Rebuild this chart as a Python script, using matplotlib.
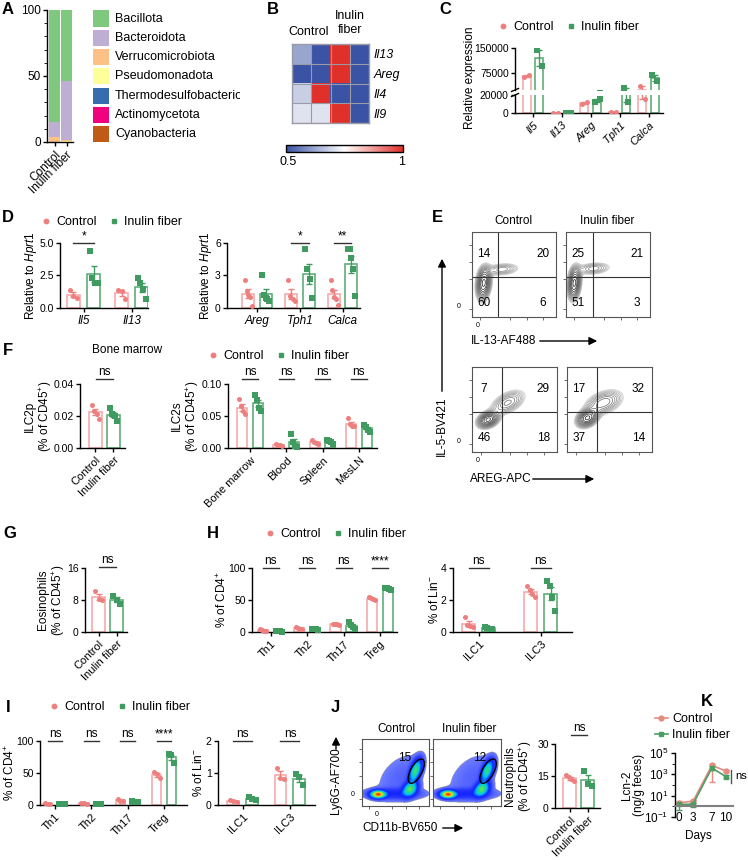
import numpy as np
import matplotlib
matplotlib.use("Agg")
import matplotlib.pyplot as plt
import matplotlib.transforms as mtransforms
from matplotlib.colors import LinearSegmentedColormap
from matplotlib.lines import Line2D
from matplotlib.patches import Ellipse, FancyArrowPatch, Rectangle
from matplotlib.ticker import MultipleLocator

plt.rcParams['font.family'] = ['Liberation Sans', 'DejaVu Sans']
plt.rcParams['font.size'] = 8.5
plt.rcParams['mathtext.fontset'] = 'custom'
plt.rcParams['mathtext.rm'] = 'Liberation Sans'
plt.rcParams['mathtext.it'] = 'Liberation Sans:italic'
plt.rcParams['axes.linewidth'] = 1.0
plt.rcParams['xtick.major.width'] = 1.0
plt.rcParams['ytick.major.width'] = 1.0
plt.rcParams['xtick.major.size'] = 3
plt.rcParams['ytick.major.size'] = 3
plt.rcParams['xtick.major.pad'] = 2
plt.rcParams['ytick.major.pad'] = 1.5
plt.rcParams['xtick.labelsize'] = 8
plt.rcParams['ytick.labelsize'] = 7.5

# ---------------- data ----------------
groups = ['Control', 'Inulin fiber']

# A: phylum composition (%)
phyla = ['Bacillota', 'Bacteroidota', 'Verrucomicrobiota', 'Pseudomonadota',
         'Thermodesulfobacteriota', 'Actinomycetota', 'Cyanobacteria']
phyla_colors = ['#7fc97f', '#beaed4', '#fdc086', '#ffff99', '#386cb0', '#f0027f', '#bf5b17']
abund_ctrl = [85.0, 11.0, 3.8, 0.2, 0.0, 0.0, 0.0]
abund_inul = [53.5, 45.0, 0.5, 1.0, 0.0, 0.0, 0.0]

# B: heatmap
hm_genes = ['Il13', 'Areg', 'Il4', 'Il9']
hm_vals = [[0.62, 0.50, 1.00, 0.50],
           [0.50, 0.50, 1.00, 0.50],
           [0.68, 1.00, 0.50, 0.50],
           [0.71, 0.71, 1.00, 0.50]]

# C: relative expression
c_genes = ['Il5', 'Il13', 'Areg', 'Tph1', 'Calca']
c_ctrl = [[65000, 71000], [300, 200], [10000, 12500], [600, 1500], [36000, 16000]]
c_inul = [[144000, 96000], [150, 300], [12000, 15500], [30500, 12000], [69000, 51000]]

# D: relative to Hprt1
d1_genes = ['Il5', 'Il13']
d1_ctrl = [[1.4, 0.9, 0.8], [1.35, 1.3, 0.7]]
d1_inul = [[4.35, 2.3, 1.9, 1.9], [2.3, 1.9, 1.45, 0.7]]
d2_genes = ['Areg', 'Tph1', 'Calca']
d2_ctrl = [[2.6, 1.6, 1.2, 1.0, 0.2], [2.6, 1.1, 0.8, 0.6], [2.6, 1.7, 1.0, 0.8, 0.3]]
d2_inul = [[3.0, 1.2, 0.9, 0.8, 0.6], [5.4, 3.6, 2.7, 0.9], [5.4, 5.4, 4.6, 3.6, 1.1]]

# E: flow quadrant percentages (UL, UR, LL, LR)
e_il13_ctrl = [14, 20, 60, 6]
e_il13_inul = [25, 21, 51, 3]
e_areg_ctrl = [7, 29, 46, 18]
e_areg_inul = [17, 32, 37, 14]
# populations (cx, cy, sx, sy, rho, weight) in axes fraction
e_il13_ctrl_pop = [(0.14, 0.40, 0.045, 0.10, 0.2, 1.0), (0.36, 0.56, 0.11, 0.04, 0.2, 0.25)]
e_il13_inul_pop = [(0.10, 0.40, 0.04, 0.10, 0.2, 1.0), (0.33, 0.57, 0.11, 0.04, 0.2, 0.25)]
e_areg_ctrl_pop = [(0.19, 0.38, 0.065, 0.05, 0.3, 1.0), (0.42, 0.58, 0.11, 0.08, 0.5, 0.35)]
e_areg_inul_pop = [(0.24, 0.40, 0.065, 0.055, 0.3, 1.0), (0.43, 0.58, 0.12, 0.08, 0.4, 0.4)]

# F: ILC2
f1_ctrl = [0.027, 0.023, 0.021, 0.018]
f1_inul = [0.025, 0.021, 0.020, 0.017]
f2_tissues = ['Bone marrow', 'Blood', 'Spleen', 'MesLN']
f2_ctrl = [[0.077, 0.065, 0.058, 0.053], [0.006, 0.005, 0.004, 0.003],
           [0.012, 0.010, 0.008, 0.007], [0.047, 0.037, 0.035, 0.034]]
f2_inul = [[0.083, 0.075, 0.063, 0.058], [0.022, 0.010, 0.003, 0.002],
           [0.012, 0.011, 0.009, 0.006], [0.036, 0.033, 0.028, 0.025]]

# G: eosinophils
g_ctrl = [10.2, 8.3, 7.9]
g_inul = [9.1, 8.0, 7.0]

# H
th_cells = ['Th1', 'Th2', 'Th17', 'Treg']
h1_ctrl = [[5, 3, 2, 2], [8, 6, 5, 4], [13, 12.5, 12, 11], [55, 53, 51, 50]]
h1_inul = [[1.5, 1, 0.8, 0.7], [5, 4.5, 4, 3.5], [15, 11, 8, 4], [69, 68, 67, 65]]
ilc_cells = ['ILC1', 'ILC3']
h2_ctrl = [[0.95, 0.45, 0.35, 0.3], [2.9, 2.6, 2.4, 2.2]]
h2_inul = [[0.3, 0.25, 0.2, 0.2], [3.2, 2.9, 2.2, 1.3]]

# I
i1_ctrl = [[3, 2, 1.5], [3, 2.5, 2], [9, 7, 6], [52, 48, 42]]
i1_inul = [[1.2, 1, 0.8], [2, 1.5, 1.2], [6, 5, 4.5], [79, 78, 66]]
i2_ctrl = [[0.17, 0.13, 0.10], [1.17, 0.85, 0.82]]
i2_inul = [[0.24, 0.18, 0.17], [0.97, 0.88, 0.62]]

# J
j_gate = [15, 12]
j_ctrl_pop = [(0.24, 0.17, 0.06, 0.03, 0.0, 1.0), (0.48, 0.18, 0.22, 0.045, 0.0, 0.07),
              (0.72, 0.25, 0.06, 0.06, 0.3, 0.45), (0.80, 0.52, 0.05, 0.09, 0.5, 0.42),
              (0.58, 0.42, 0.22, 0.22, 0.4, 0.012)]
j_inul_pop = [(0.22, 0.17, 0.06, 0.03, 0.0, 1.0), (0.48, 0.18, 0.22, 0.045, 0.0, 0.07),
              (0.72, 0.25, 0.06, 0.06, 0.3, 0.45), (0.80, 0.52, 0.05, 0.085, 0.5, 0.38),
              (0.58, 0.42, 0.22, 0.22, 0.4, 0.012)]
j_ctrl = [15.3, 14.5, 13.5, 12.5]
j_inul = [17.5, 11.4, 10.5]

# K: Lcn-2 time course
k_days = [0, 3, 7, 10]
k_ctrl = [2.2, 3.0, 7000, 2000]
k_ctrl_lo = [1.6, 2.2, 200, 1500]
k_ctrl_hi = [3.0, 4.0, 9000, 2600]
k_inul = [1.5, 1.6, 4000, 600]
k_inul_lo = [0.5, 0.8, 2500, 450]
k_inul_hi = [2.2, 2.2, 5500, 800]

CTRL_DOT, CTRL_BAR = '#EE7F7F', '#F5AAAA'
INUL_DOT, INUL_BAR = '#3F9B5F', '#5FAE78'

# ---------------- helpers ----------------
W, H = 748, 860
fig = plt.figure(figsize=(W / 100, H / 100), dpi=100)


def fx(x):
    return x / W


def fy(y):
    return 1 - y / H


def px_axes(l, t, r, b):
    return fig.add_axes([fx(l), fy(b), (r - l) / W, (b - t) / H])


def ftext(x, y, s, **kw):
    kw.setdefault('ha', 'center')
    kw.setdefault('va', 'center')
    return fig.text(fx(x), fy(y), s, **kw)


def arrow(x1, y1, x2, y2):
    fig.add_artist(FancyArrowPatch((fx(x1), fy(y1)), (fx(x2), fy(y2)),
                                   transform=fig.transFigure, arrowstyle='-|>',
                                   mutation_scale=12, lw=1, color='black'))


def letter(x, y, s):
    ftext(x, y, s, fontsize=12, fontweight='bold')


def group_legend(x, y):
    h = [Line2D([], [], ls='none', marker='o', ms=3.2, color=CTRL_DOT),
         Line2D([], [], ls='none', marker='s', ms=3.2, color=INUL_DOT)]
    fig.legend(h, groups, loc='center left', bbox_to_anchor=(fx(x), fy(y)),
               bbox_transform=fig.transFigure, ncol=2, frameon=False,
               handlelength=0.8, handletextpad=0.4, columnspacing=1.0,
               borderpad=0, borderaxespad=0, fontsize=9)


def bar_group(ax, x, vals, dot, edge, marker, width, clip=False):
    vals = np.asarray(vals, dtype=float)
    mean = vals.mean()
    sem = vals.std(ddof=1) / np.sqrt(len(vals))
    ax.bar(x, mean, width, color='white', edgecolor=edge, linewidth=1.2, zorder=2)
    ax.errorbar(x, mean, yerr=sem, fmt='none', ecolor=dot, elinewidth=1,
                capsize=2.5, capthick=1, zorder=3)
    offs = np.linspace(-0.3, 0.3, len(vals)) * width
    ax.scatter(x + offs, vals, s=13, color=dot, marker=marker, linewidths=0,
               zorder=4, clip_on=clip)


def finish(ax, cats, ylim, yticks, xlim, rot=45, italic=False, ylabels=None):
    ax.spines[['top', 'right']].set_visible(False)
    ax.set_xlim(xlim)
    ax.set_ylim(ylim)
    ax.set_yticks(yticks)
    if ylabels is not None:
        ax.set_yticklabels(ylabels)
    ax.set_xticks(range(len(cats)))
    style = 'italic' if italic else 'normal'
    if rot:
        ax.set_xticklabels(cats, rotation=rot, ha='right', rotation_mode='anchor',
                           fontstyle=style)
    else:
        ax.set_xticklabels(cats, fontstyle=style, fontsize=8.5)


def bar_panel(rect, cats, ctrl, inul, ylim, yticks, xlim, off=0.21, width=0.27,
              rot=45, italic=False, ylabels=None):
    ax = px_axes(*rect)
    for i in range(len(cats)):
        bar_group(ax, i - off, ctrl[i], CTRL_DOT, CTRL_BAR, 'o', width)
        bar_group(ax, i + off, inul[i], INUL_DOT, INUL_BAR, 's', width)
    finish(ax, cats, ylim, yticks, xlim, rot, italic, ylabels)
    return ax


def pair_panel(rect, ctrl, inul, ylim, yticks, xlim, width=0.72, ylabels=None):
    ax = px_axes(*rect)
    bar_group(ax, 0, ctrl, CTRL_DOT, CTRL_BAR, 'o', width)
    bar_group(ax, 1, inul, INUL_DOT, INUL_BAR, 's', width)
    finish(ax, groups, ylim, yticks, xlim, 45, False, ylabels)
    return ax


def sig(ax, x1, x2, yfrac, text):
    tr = mtransforms.blended_transform_factory(ax.transData, ax.transAxes)
    ax.plot([x1, x2], [yfrac, yfrac], color='#333333', lw=1, transform=tr, clip_on=False)
    ax.text((x1 + x2) / 2, yfrac + 0.01, text, transform=tr, ha='center', va='bottom',
            fontsize=8.5)


def density(pops, n=200):
    gx, gy = np.meshgrid(np.linspace(0, 1, n), np.linspace(0, 1, n))
    z = np.zeros_like(gx)
    for cx, cy, sx, sy, rho, w in pops:
        dx = (gx - cx) / sx
        dy = (gy - cy) / sy
        z += w * np.exp(-(dx ** 2 - 2 * rho * dx * dy + dy ** 2) / (2 * (1 - rho ** 2)))
    return gx, gy, z / z.max()


def flow_box(ax):
    ax.set_xlim(0, 1)
    ax.set_ylim(0, 1)
    for s in ax.spines.values():
        s.set_color('#555555')
        s.set_linewidth(0.8)
    ax.set_xticks([0.1, 0.45, 0.65, 0.85])
    ax.set_yticks([0.1, 0.45, 0.65, 0.85])
    ax.set_xticklabels([])
    ax.set_yticklabels([])
    ax.tick_params(length=2, width=0.6, color='#555555')


def flow_contour(rect, pops, vline, hline, nums):
    ax = px_axes(*rect)
    gx, gy, z = density(pops)
    levels = np.geomspace(0.06, 0.92, 14)
    colors = plt.cm.Greys(np.linspace(0.3, 0.92, 14))
    ax.contour(gx, gy, z, levels=levels, colors=colors, linewidths=0.5)
    ax.axvline(vline, color='#333333', lw=0.8)
    ax.axhline(hline, color='#333333', lw=0.8)
    for (tx, ty), v in zip([(0.14, 0.74), (0.84, 0.74), (0.14, 0.17), (0.84, 0.17)], nums):
        ax.text(tx, ty, str(v), transform=ax.transAxes, ha='center', va='center', fontsize=8.5)
    flow_box(ax)
    return ax


pseudo = LinearSegmentedColormap.from_list(
    'pseudo', ['#7080ff', '#3040ff', '#1020ff', '#00c0ff', '#30e070', '#f0f020', '#ff2000'])


def flow_density(rect, pops, num, numpos, gate_c):
    ax = px_axes(*rect)
    gx, gy, z = density(pops)
    c = np.ma.masked_less(z, 0.004) ** 0.35
    ax.imshow(c, cmap=pseudo, origin='lower', extent=(0, 1, 0, 1), vmin=0.145, vmax=1,
              aspect='auto', interpolation='bilinear')
    ax.add_patch(Ellipse(gate_c, 0.17, 0.4, angle=-28, fill=False, lw=1, ec='black',
                         transform=ax.transAxes))
    ax.text(numpos[0], numpos[1], str(num), transform=ax.transAxes, ha='center',
            va='center', fontsize=8.5)
    flow_box(ax)
    return ax


# ---------------- A ----------------
letter(8, 10, 'A')
ax = px_axes(47, 10, 73, 142)
bottom = np.zeros(2)
for name, col, c, v in reversed(list(zip(phyla, phyla_colors, abund_ctrl, abund_inul))):
    ax.bar([0, 1], [c, v], 0.92, bottom=bottom, color=col, linewidth=0)
    bottom += [c, v]
ax.set_xlim(-0.625, 1.54)
ax.set_ylim(0, 100)
ax.set_yticks([0, 50, 100])
ax.yaxis.set_minor_locator(MultipleLocator(10))
ax.tick_params(axis='y', which='minor', length=2)
ax.tick_params(axis='y', labelsize=8.5)
ax.spines[['top', 'right']].set_visible(False)
ax.set_xticks([0, 1])
ax.set_xticklabels(groups, rotation=45, ha='right', rotation_mode='anchor', fontsize=8.5)
clip = mtransforms.TransformedBbox(mtransforms.Bbox([[0, 0], [fx(240), 1]]), fig.transFigure)
for i, (name, col) in enumerate(zip(phyla, phyla_colors)):
    y = 18.5 + i * 19.3
    fig.add_artist(Rectangle((fx(93), fy(y + 8)), 16 / W, 16 / H, transform=fig.transFigure,
                             color=col, lw=0))
    t = ftext(115, y, name, ha='left', fontsize=9)
    t.set_clip_box(clip)
    t.set_clip_on(True)

# ---------------- B ----------------
letter(273, 9, 'B')
ax = px_axes(292, 44, 369, 123)
hm_cmap = LinearSegmentedColormap.from_list('bwr_hm', ['#3A53A4', '#FFFFFF', '#E0302A'])
im = ax.imshow(hm_vals, cmap=hm_cmap, vmin=0.5, vmax=1, aspect='auto')
ax.set_xticks(np.arange(-0.5, 4, 1), minor=True)
ax.set_yticks(np.arange(-0.5, 4, 1), minor=True)
ax.grid(which='minor', color='#9a9aa8', lw=0.8)
ax.set_xticks([])
ax.set_yticks(range(4))
ax.yaxis.tick_right()
ax.set_yticklabels(hm_genes, fontstyle='italic', fontsize=9)
ax.tick_params(which='both', length=0, pad=3)
for s in ax.spines.values():
    s.set_color('#9a9aa8')
ftext(309, 32, 'Control', fontsize=9)
ftext(350, 23, 'Inulin\nfiber', linespacing=1.3, fontsize=9)
cax = px_axes(286, 145, 403, 152)
cb = fig.colorbar(im, cax=cax, orientation='horizontal', ticks=[])
cb.outline.set_linewidth(1)
ftext(288, 162, '0.5', fontsize=9)
ftext(402, 162, '1', fontsize=9)

# ---------------- C ----------------
letter(445, 9, 'C')
group_legend(498, 27)
axu = px_axes(515, 48, 663, 90)
axl = px_axes(515, 95, 663, 113)
for a in (axu, axl):
    for i in range(len(c_genes)):
        bar_group(a, i - 0.22, c_ctrl[i], CTRL_DOT, CTRL_BAR, 'o', 0.28, clip=True)
        bar_group(a, i + 0.22, c_inul[i], INUL_DOT, INUL_BAR, 's', 0.28, clip=True)
finish(axl, c_genes, (0, 20000), [0, 20000], (-0.62, 4.5), 45, True, ['0', '20000'])
finish(axu, c_genes, (25000, 150000), [75000, 150000], (-0.62, 4.5), 45, True,
       ['75000', '150000'])
axu.spines['bottom'].set_visible(False)
axu.set_xticks([])
for y in (90, 95):
    fig.add_artist(Line2D([fx(511.5), fx(518.5)], [fy(y + 1.5), fy(y - 1.5)],
                          transform=fig.transFigure, color='black', lw=1))
ftext(470, 78, 'Relative expression', rotation=90)

# ---------------- D ----------------
letter(8, 217, 'D')
group_legend(41, 222)
ax = bar_panel((60, 243, 148, 308), d1_genes, d1_ctrl, d1_inul, (0, 5), [0, 2.5, 5],
               (-0.49, 1.34), off=0.21, width=0.27, rot=0, italic=True,
               ylabels=['0.0', '2.5', '5.0'])
sig(ax, -0.21, 0.21, 1.0, '*')
ftext(31, 275, r'Relative to $\mathit{Hprt1}$', rotation=90)
ax = bar_panel((227, 243, 360, 308), d2_genes, d2_ctrl, d2_inul, (0, 6), [0, 3, 6],
               (-0.7, 2.4), off=0.2, width=0.28, rot=0, italic=True)
sig(ax, 0.8, 1.2, 1.0, '*')
sig(ax, 1.8, 2.2, 1.0, '**')
ftext(206, 275, r'Relative to $\mathit{Hprt1}$', rotation=90)

# ---------------- E ----------------
letter(437, 217, 'E')
ftext(513, 221, 'Control')
ftext(607, 221, 'Inulin fiber')
flow_contour((472, 232, 556, 317), e_il13_ctrl_pop, 0.31, 0.47, e_il13_ctrl)
flow_contour((566, 232, 650, 317), e_il13_inul_pop, 0.32, 0.47, e_il13_inul)
flow_contour((472, 367, 557, 452), e_areg_ctrl_pop, 0.35, 0.47, e_areg_ctrl)
flow_contour((567, 367, 652, 452), e_areg_inul_pop, 0.35, 0.47, e_areg_inul)
for y0 in (306, 441):
    ftext(459, y0, '0', fontsize=5)
for y0 in (326, 461):
    ftext(478, y0, '0', fontsize=5)
ftext(471, 341, 'IL-13-AF488', ha='left')
arrow(537, 341, 600, 341)
ftext(470, 479, 'AREG-APC', ha='left')
arrow(530, 479, 597, 479)
ftext(442, 426, 'IL-5-BV421', rotation=90)
arrow(442, 394, 442, 256)

# ---------------- F ----------------
letter(8, 350, 'F')
ftext(127, 350, 'Bone marrow')
ax = pair_panel((80, 384, 125, 448), f1_ctrl, f1_inul, (0, 0.04), [0, 0.02, 0.04],
                (-0.86, 1.64), ylabels=['0.00', '0.02', '0.04'])
sig(ax, 0.05, 0.95, 1.08, 'ns')
ftext(39, 416, 'ILC2p\n(% of CD45$^{+}$)', rotation=90, linespacing=1.1)
group_legend(208, 356)
ax = bar_panel((228, 384, 377, 448), f2_tissues, f2_ctrl, f2_inul, (0, 0.1),
               [0, 0.05, 0.1], (-0.61, 3.5), off=0.215, width=0.28,
               ylabels=['0.00', '0.05', '0.10'])
for i in range(4):
    sig(ax, i - 0.215, i + 0.215, 1.08, 'ns')
ftext(186, 416, 'ILC2s\n(% of CD45$^{+}$)', rotation=90, linespacing=1.1)

# ---------------- G ----------------
letter(10, 533, 'G')
ax = pair_panel((85, 568, 127, 632), g_ctrl, g_inul, (0, 16), [0, 8, 16], (-0.75, 1.58))
sig(ax, 0.05, 0.95, 1.02, 'ns')
ftext(52, 600, 'Eosinophils\n(% of CD45$^{+}$)', rotation=90, linespacing=1.1)

# ---------------- H ----------------
letter(213, 533, 'H')
group_legend(265, 534)
ax = bar_panel((252, 568, 397, 632), th_cells, h1_ctrl, h1_inul, (0, 100), [0, 50, 100],
               (-0.52, 3.47), off=0.22, width=0.28)
for i, s in enumerate(['ns', 'ns', 'ns', '****']):
    sig(ax, i - 0.22, i + 0.22, 1.0, s)
ftext(222, 600, '% of CD4$^{+}$', rotation=90)
ax = bar_panel((453, 568, 572, 632), ilc_cells, h2_ctrl, h2_inul, (0, 4), [0, 2, 4],
               (-0.41, 1.5), off=0.16, width=0.21)
for i in range(2):
    sig(ax, i - 0.16, i + 0.16, 1.0, 'ns')
ftext(435, 600, '% of Lin$^{-}$', rotation=90)

# ---------------- I ----------------
letter(8, 707, 'I')
group_legend(49, 707)
ax = bar_panel((40, 741, 187, 805), th_cells, i1_ctrl, i1_inul, (0, 100), [0, 50, 100],
               (-0.41, 3.63), off=0.2, width=0.25)
for i, s in enumerate(['ns', 'ns', 'ns', '****']):
    sig(ax, i - 0.2, i + 0.2, 1.0, s)
ftext(10, 773, '% of CD4$^{+}$', rotation=90)
ax = bar_panel((218, 741, 315, 805), ilc_cells, i2_ctrl, i2_inul, (0, 2), [0, 1, 2],
               (-0.52, 1.53), off=0.2, width=0.25)
for i in range(2):
    sig(ax, i - 0.2, i + 0.2, 1.0, 'ns')
ftext(198, 773, '% of Lin$^{-}$', rotation=90)

# ---------------- J ----------------
letter(335, 707, 'J')
ftext(396, 729, 'Control')
ftext(469, 729, 'Inulin fiber')
flow_density((362, 739, 429, 806), j_ctrl_pop, j_gate[0], (0.63, 0.72), (0.81, 0.52))
flow_density((433, 739, 501, 806), j_inul_pop, j_gate[1], (0.68, 0.72), (0.81, 0.52))
ftext(353, 795, '0', fontsize=5)
ftext(377, 814, '0', fontsize=5)
ftext(336, 781, 'Ly6G-AF700', rotation=90)
arrow(336, 752, 336, 734)
ftext(362, 828, 'CD11b-BV650', ha='left')
arrow(440, 828, 466, 828)
ax = pair_panel((555, 744, 600, 808), j_ctrl, j_inul, (0, 30), [0, 15, 30], (-0.83, 1.67))
sig(ax, 0.05, 0.95, 1.14, 'ns')
ftext(519, 776, 'Neutrophils\n(% of CD45$^{+}$)', rotation=90, linespacing=1.1)

# ---------------- K ----------------
letter(707, 702, 'K')
ax = px_axes(675, 753, 733, 817)
ax.set_yscale('log')
for mean, lo, hi, col, mk in [(k_ctrl, k_ctrl_lo, k_ctrl_hi, '#E58B80', 'o'),
                              (k_inul, k_inul_lo, k_inul_hi, '#4B9E62', 's')]:
    mean = np.asarray(mean)
    yerr = [mean - np.asarray(lo), np.asarray(hi) - mean]
    ax.errorbar(k_days, mean, yerr=yerr, color=col, marker=mk, ms=3.5, lw=1.2,
                capsize=2, elinewidth=1, clip_on=False)
ax.set_ylim(0.1, 1e5)
ax.set_xlim(-0.85, 11.5)
ax.set_yticks([0.1, 10, 1e3, 1e5])
ax.set_yticklabels(['10$^{-1}$', '10$^{1}$', '10$^{3}$', '10$^{5}$'], fontsize=8.5)
ax.set_yticks([1, 100, 1e4], minor=True)
ax.yaxis.set_minor_formatter(plt.NullFormatter())
ax.tick_params(axis='y', which='minor', length=2)
ax.set_xticks(k_days)
ax.tick_params(axis='x', length=0, pad=4, labelsize=8.5)
ax.spines[['top', 'right']].set_visible(False)
ax.spines['bottom'].set_position(('data', 1))
ax.spines['bottom'].set_color('#808080')
ax.spines['bottom'].set_linewidth(1.5)
ftext(698, 836, 'Days')
ftext(633, 785, 'Lcn-2\n(ng/g feces)', rotation=90, linespacing=1.1)
fig.add_artist(Line2D([fx(731), fx(731)], [fy(770), fy(783)], transform=fig.transFigure,
                      color='#555555', lw=1))
ftext(735, 776, 'ns', ha='left', fontsize=8)
kh = [Line2D([], [], color='#E58B80', marker='o', ms=3.5, lw=1.2),
      Line2D([], [], color='#4B9E62', marker='s', ms=3.5, lw=1.2)]
fig.legend(kh, groups, loc='center left', bbox_to_anchor=(fx(655), fy(727)),
           bbox_transform=fig.transFigure, frameon=False, handlelength=1.0,
           handletextpad=0.4, labelspacing=0.3, borderpad=0, borderaxespad=0, fontsize=9)

fig.savefig('out.png', dpi=100)
